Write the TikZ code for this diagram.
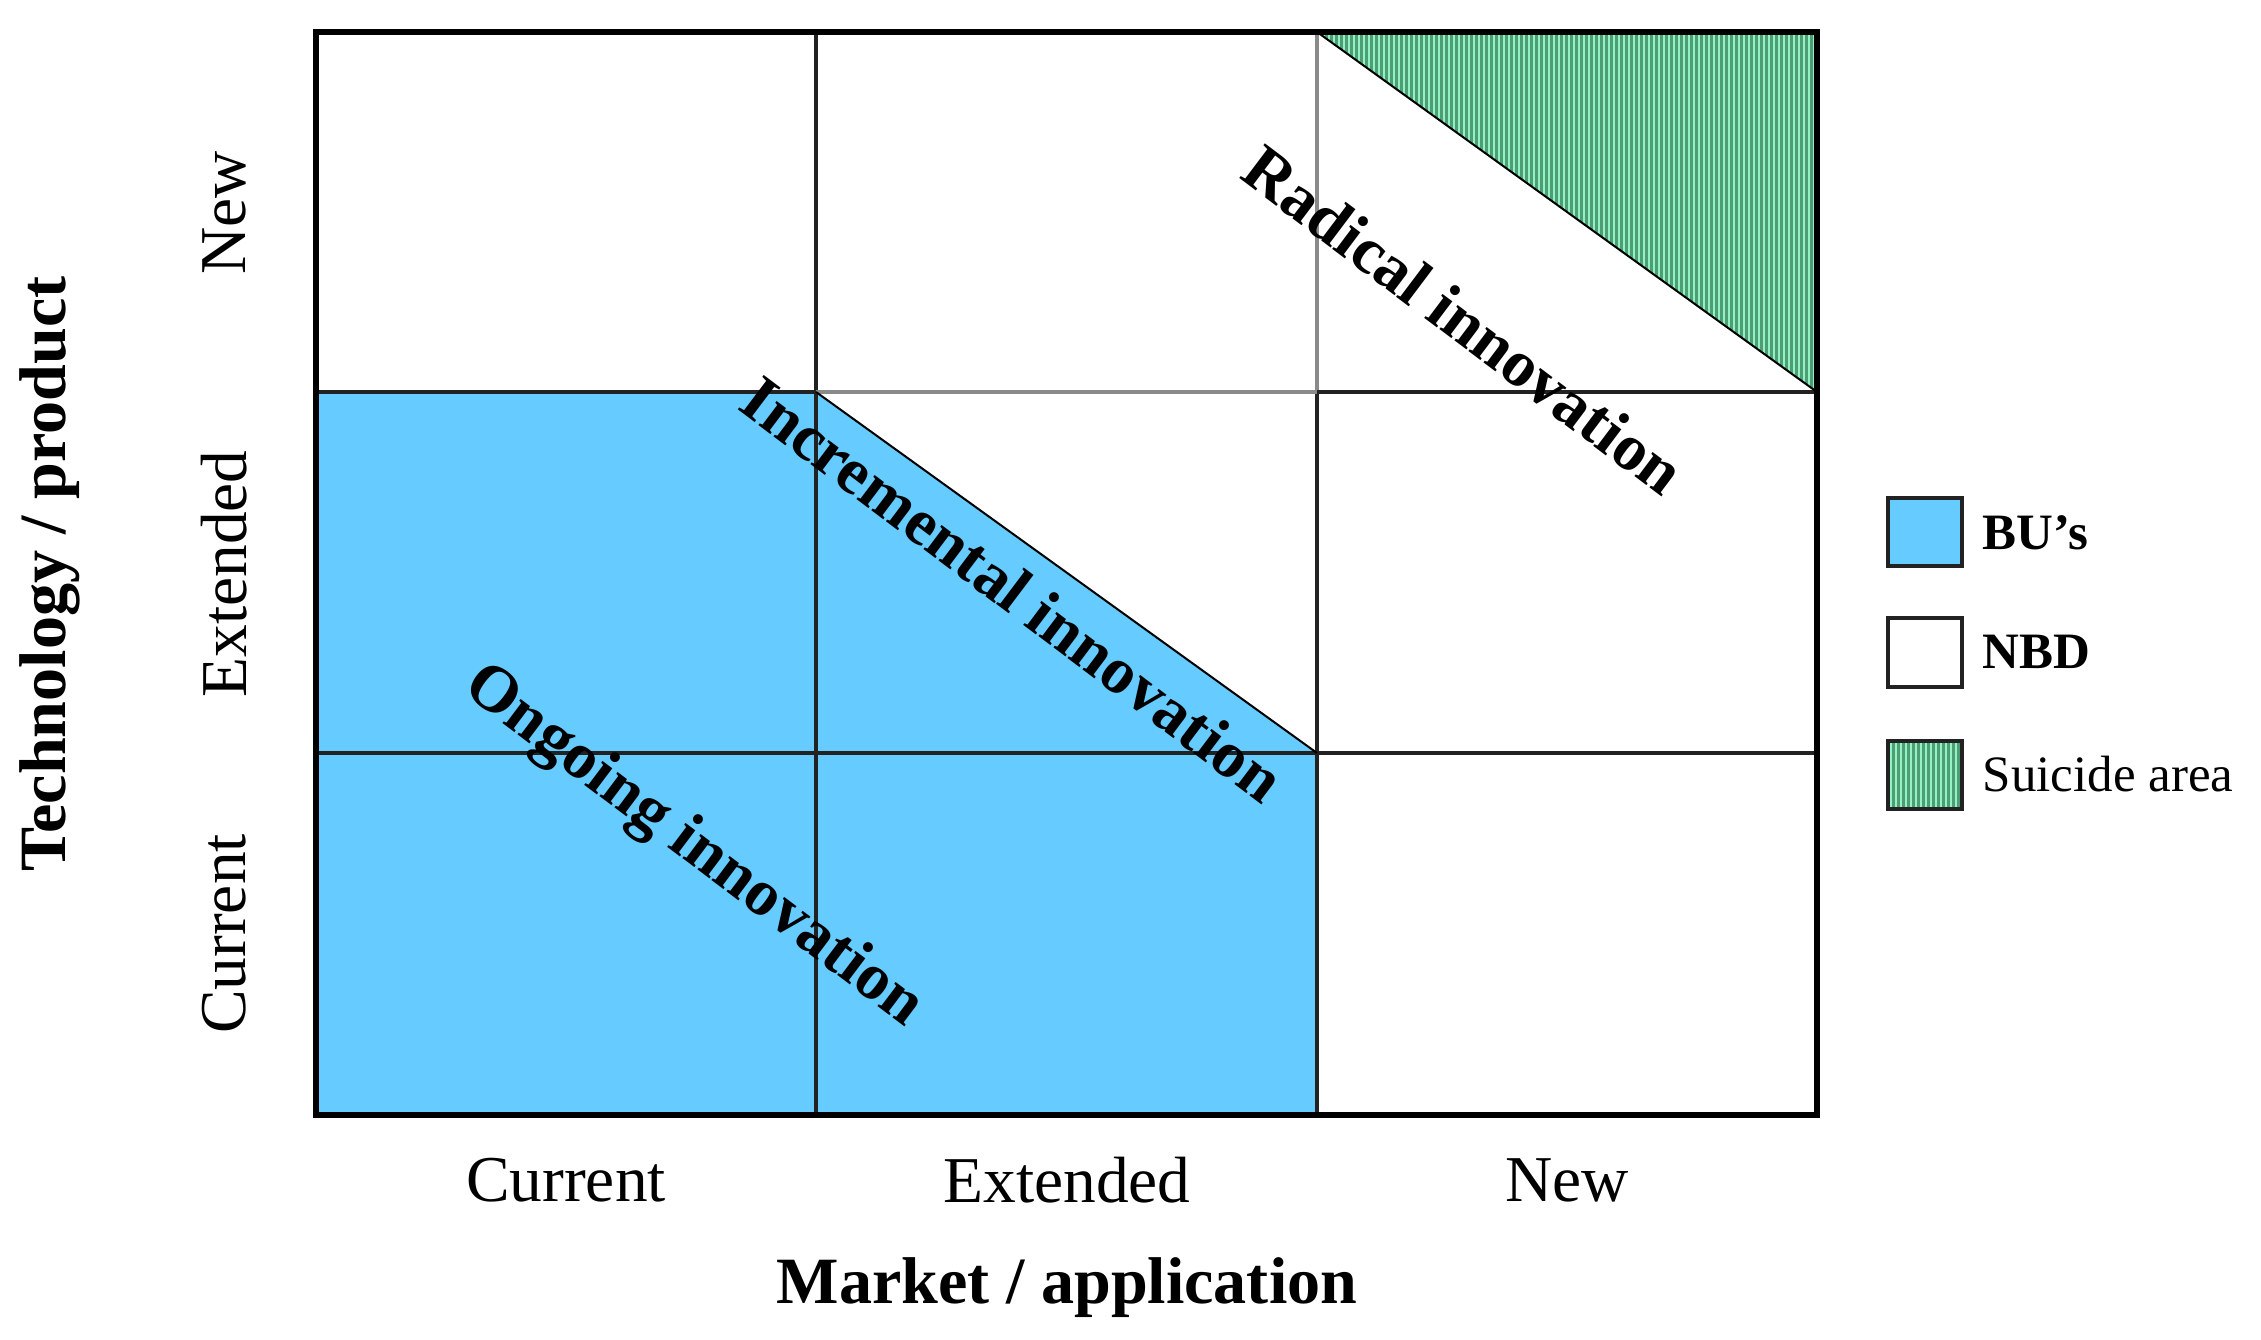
\documentclass[tikz,border=0pt]{standalone}
\usepackage{fontspec}
\setmainfont{Liberation Serif}
\definecolor{bu}{HTML}{66CCFF}
\definecolor{gdark}{HTML}{4F9D74}
\definecolor{glight}{HTML}{93F2C4}
\definecolor{gridc}{HTML}{222222}
\definecolor{gridl}{HTML}{8A8A8A}
\tikzset{
  gridline/.style={draw=gridc, line width=0.036cm},
  gridlight/.style={draw=gridl, line width=0.034cm},
  diagline/.style={draw=black, line width=0.02cm},
  outer/.style={draw=black, line width=0.065cm},
  axislab/.style={font=\fontsize{18.6}{20}\selectfont, inner sep=0pt},
  axistitle/.style={font=\fontsize{18.8}{20}\selectfont\bfseries, inner sep=0pt},
  innolab/.style={font=\fontsize{18.7}{20}\selectfont\bfseries, inner sep=0pt, rotate=-37},
  legbox/.style={draw=gridc, line width=0.035cm},
  legtext/.style={font=\fontsize{14.5}{16}\selectfont, inner sep=0pt, anchor=west},
  stripe/.style={draw=glight, line width=0.014cm}
}
\begin{document}
\begin{tikzpicture}[x=0.01cm,y=-0.01cm]
\useasboundingbox[fill=white] (0,0) rectangle (2261,1340);
% blue BU region
\fill[bu] (316,392) -- (816,392) -- (1317,753) -- (1317,1115) -- (316,1115) -- cycle;
% suicide area
\fill[gdark] (1317,32) -- (1817,32) -- (1817,392) -- cycle;
\begin{scope}
  \clip (1317,32) -- (1817,32) -- (1817,392) -- cycle;
  \foreach \x in {1319,1324,...,1817} \draw[stripe] (\x,32) -- (\x,392);
\end{scope}
% grid lines
\draw[gridline] (816,32) -- (816,1115);
\draw[gridlight] (1317,32) -- (1317,392);
\draw[gridline] (1317,392) -- (1317,1115);
\draw[gridline] (316,392) -- (816,392);
\draw[gridlight] (816,392) -- (1317,392);
\draw[gridline] (1317,392) -- (1817,392);
\draw[gridline] (316,753) -- (1817,753);
% diagonals
\draw[diagline] (816,392) -- (1317,753);
\draw[diagline] (1317,32) -- (1817,392);
% outer border
\draw[outer] (316,32) rectangle (1817,1115);
% inner texts
\node[innolab] (rad) at (1464,320) {Radical innovation};
\node[innolab] (inc) at (1013,589) {Incremental innovation};
\node[innolab] (ong) at (693,847) {Ongoing innovation};
% bottom axis labels
\node[axislab] (mc) at (566,1180) {Current};
\node[axislab] (me) at (1067,1180) {Extended};
\node[axislab] (mn) at (1567,1180) {New};
\node[axistitle] (mt) at (1067,1288) {Market / application};
% left axis labels
\node[axislab, rotate=90] (tn) at (224,213) {New};
\node[axislab, rotate=90] (te) at (224,574) {Extended};
\node[axislab, rotate=90] (tc) at (224,934) {Current};
\node[axistitle, rotate=90] (tt) at (50,574) {Technology / product};
% legend
\draw[legbox, fill=bu] (1888,498) rectangle (1962,566);
\draw[legbox, fill=white] (1888,618) rectangle (1962,687);
\fill[gdark] (1888,741) rectangle (1962,809);
\begin{scope}
  \clip (1888,741) rectangle (1962,809);
  \foreach \x in {1891,1896,...,1962} \draw[stripe] (\x,741) -- (\x,809);
\end{scope}
\draw[legbox] (1888,741) rectangle (1962,809);
\node[legtext, font=\fontsize{14.5}{16}\selectfont\bfseries] (lbu) at (1982,533) {BU’s};
\node[legtext, font=\fontsize{14.5}{16}\selectfont\bfseries] (lnbd) at (1982,652) {NBD};
\node[legtext] (lsu) at (1982,774) {Suicide area};
\end{tikzpicture}
\end{document}
